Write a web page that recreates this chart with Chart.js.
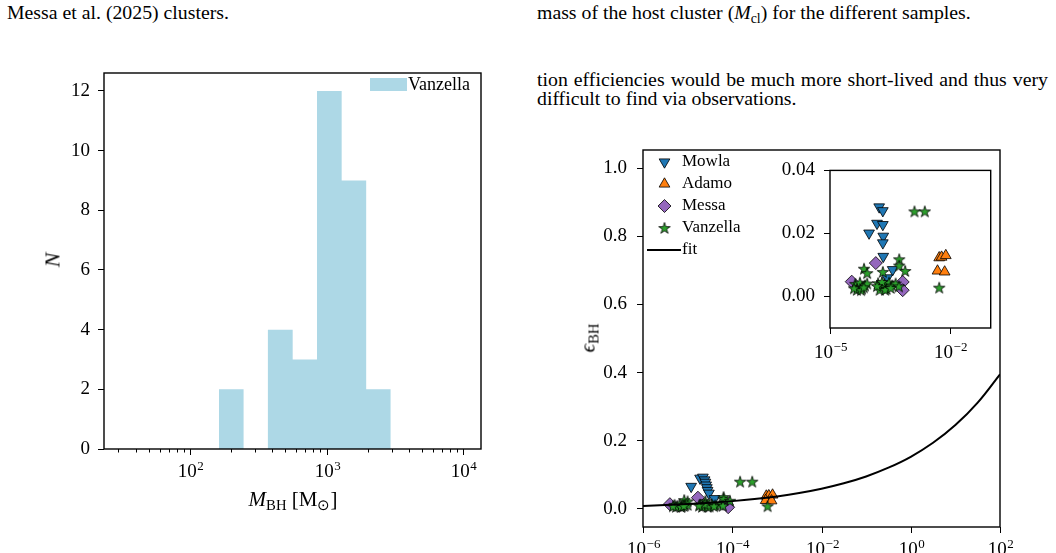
<!DOCTYPE html>
<html>
<head>
<meta charset="utf-8">
<script src="https://cdn.jsdelivr.net/npm/chart.js@4.4.0/dist/chart.umd.min.js"></script>
<style>
  body { margin: 0; width: 1056px; height: 553px; background: #fff; position: relative; overflow: hidden;
         font-family: "Liberation Serif", serif; color: #000; }
  .txt { position: absolute; font-size: 19.8px; line-height: 20px; white-space: nowrap; }
  .para { position: absolute; font-size: 19.8px; line-height: 20px; width: 511px; text-align: justify; text-align-last: justify; white-space: nowrap; }
  .sb { font-size: 70%; position: relative; top: 4px; line-height: 0; }
  canvas { position: absolute; }
  .lbl { position: absolute; font-size: 21px; line-height: 21px; white-space: nowrap; transform: translate(-50%, -50%); }
</style>
</head>
<body>
<div class="txt" style="left:7px; top:2px;">Messa et al. (2025) clusters.</div>
<div class="txt" style="left:537px; top:2px;">mass of the host cluster (<i>M</i><span class="sb">cl</span>) for the different samples.</div>
<div class="para" style="left:537px; top:69px;">tion efficiencies would be much more short-lived and thus very</div>
<div class="txt" style="left:537px; top:88px;">difficult to find via observations.</div>

<canvas id="histChart" width="530" height="513" style="left:0; top:40px;"></canvas>
<canvas id="effChart" width="526" height="433" style="left:530px; top:120px;"></canvas>
<canvas id="insetChart" width="228" height="212" style="left:770px; top:150px;"></canvas>

<div class="lbl" style="left:293px; top:499px;"><i>M</i><span class="sb">BH</span> [M<span class="sb">⊙</span>]</div>
<div class="lbl" style="left:52px; top:260px; font-size:22px; transform: translate(-50%, -50%) rotate(-90deg);"><i>N</i></div>
<div class="lbl" style="left:588px; top:338px; transform: translate(-50%, -50%) rotate(-90deg);"><i>ϵ</i><span class="sb">BH</span></div>

<script>
// ---- histogram of BH masses (left panel) ----
const histEdges = [163, 247, 372, 565, 851, 1290, 1950, 2950];
const histCounts = [2, 0, 4, 3, 12, 9, 2];
const histYTicks = [0, 2, 4, 6, 8, 10, 12];
const histMajor = [1e2, 1e3, 1e4];
const histMinor = [30, 40, 50, 60, 70, 80, 90, 200, 300, 400, 500, 600, 700, 800, 900,
                   2000, 3000, 4000, 5000, 6000, 7000, 8000, 9000];

// ---- efficiency vs. x (right panel) ----
const mowlaMain = [[1.2e-5, 0.066], [1.9e-5, 0.090], [2.2e-5, 0.093], [2.4e-5, 0.085], [2.5e-5, 0.078],
                   [2.6e-5, 0.070], [2.7e-5, 0.062], [2.8e-5, 0.054], [3.0e-5, 0.046], [4.0e-5, 0.030]];
const adamoMain = [[5.8e-4, 0.038], [6.6e-4, 0.039], [8.0e-4, 0.041], [5.6e-4, 0.025], [7.6e-4, 0.024]];
const messaMain = [[1.7e-5, 0.033], [4.0e-6, 0.014], [7.5e-5, 0.013], [8.1e-5, 0.005]];
const vanzellaMain = [[1.5e-4, 0.080], [2.8e-4, 0.080], [6.2e-4, 0.008], [6.4e-5, 0.035], [6.4e-5, 0.029],
                      [8.9e-5, 0.024], [8.4e-6, 0.026], [1.0e-5, 0.022], [2.5e-5, 0.023], [5.1e-6, 0.012],
                      [5.9e-6, 0.009], [6.6e-6, 0.013], [7.4e-6, 0.0075], [5.5e-6, 0.0063], [7.1e-6, 0.006],
                      [8.8e-6, 0.0105], [1.0e-5, 0.012], [4.7e-6, 0.0078], [8.2e-6, 0.0087], [1.9e-5, 0.0126],
                      [2.2e-5, 0.009], [2.7e-5, 0.012], [3.1e-5, 0.0072], [3.5e-5, 0.013], [4.2e-5, 0.0105],
                      [2.1e-5, 0.0063], [2.8e-5, 0.0063], [5.2e-5, 0.012], [6.2e-5, 0.0096], [2.4e-5, 0.014],
                      [3.9e-5, 0.008], [1.8e-5, 0.0099]];
// fit curve, read every half decade
const fitX = [1e-6, 3.16e-6, 1e-5, 3.16e-5, 1e-4, 3.16e-4, 1e-3, 3.16e-3, 1e-2,
              3.16e-2, 1e-1, 3.16e-1, 1, 3.16, 10, 31.6, 100];
const fitY = [0.0089, 0.0113, 0.0143, 0.0181, 0.0229, 0.0290, 0.0368, 0.0467, 0.0593,
              0.0752, 0.0953, 0.121, 0.153, 0.194, 0.246, 0.312, 0.395];
const effYTicks = [0, 0.2, 0.4, 0.6, 0.8, 1.0];
const effXTicks = [1e-6, 1e-4, 1e-2, 1, 1e2];

// ---- inset (zoom on the low-efficiency points) ----
const mowlaInset = [[1.7e-4, 0.0284], [2.1e-4, 0.0272], [1.5e-4, 0.0232], [2.1e-4, 0.0228], [9.5e-5, 0.0201],
                    [2.15e-4, 0.0191], [2.1e-4, 0.0170], [2.15e-4, 0.0127], [3.7e-4, 0.0085], [2.7e-4, 0.0059]];
const adamoInset = [[5.4e-3, 0.0123], [6.2e-3, 0.0125], [7.9e-3, 0.0130], [4.9e-3, 0.0081], [7.4e-3, 0.0078]];
const messaInset = [[1.4e-4, 0.0106], [3.5e-5, 0.0047], [6.6e-4, 0.0046], [6.6e-4, 0.0020]];
const vanzellaInset = [[1.3e-3, 0.0270], [2.35e-3, 0.0270], [5.4e-3, 0.0028], [5.4e-4, 0.0118], [5.4e-4, 0.0098],
                       [7.6e-4, 0.0081], [7.1e-5, 0.0088], [8.5e-5, 0.0074], [2.1e-4, 0.0078], [4.3e-5, 0.0040],
                       [5.0e-5, 0.0030], [5.6e-5, 0.0044], [6.3e-5, 0.0025], [4.7e-5, 0.0021], [6.0e-5, 0.0020],
                       [7.5e-5, 0.0035], [8.5e-5, 0.0041], [4.0e-5, 0.0026], [7.0e-5, 0.0029], [1.6e-4, 0.0042],
                       [1.9e-4, 0.0030], [2.3e-4, 0.0040], [2.6e-4, 0.0024], [3.0e-4, 0.0044], [3.6e-4, 0.0035],
                       [1.75e-4, 0.0021], [2.4e-4, 0.0021], [4.4e-4, 0.0041], [5.3e-4, 0.0032], [2.0e-4, 0.0046],
                       [3.3e-4, 0.0027], [1.5e-4, 0.0033]];
const insetYTicks = [0, 0.02, 0.04];
const insetXTicks = [1e-5, 1e-2];

const FONT = '"Liberation Serif", "DejaVu Serif", serif';
Chart.defaults.font.family = FONT;
Chart.defaults.color = '#000';

const colors = { Mowla: '#1f77b4', Adamo: '#ff7f0e', Messa: '#9467bd', Vanzella: '#2ca02c' };

function starPath(ctx, x, y, R) {
  const r = R * 0.382;
  ctx.beginPath();
  for (let i = 0; i < 10; i++) {
    const rad = i % 2 ? r : R;
    const ang = -Math.PI / 2 + i * Math.PI / 5;
    ctx.lineTo(x + rad * Math.cos(ang), y + rad * Math.sin(ang));
  }
  ctx.closePath();
}

// filled star marker, used as a Chart.js pointStyle
const starImg = document.createElement('canvas');
starImg.width = 14; starImg.height = 14;
(function () {
  const c = starImg.getContext('2d');
  starPath(c, 7, 7.5, 6);
  c.fillStyle = colors.Vanzella; c.fill();
  c.lineWidth = 0.8; c.strokeStyle = '#000'; c.stroke();
})();

function drawMarker(ctx, kind, x, y, r) {
  ctx.save();
  ctx.lineWidth = 0.8; ctx.strokeStyle = '#000';
  if (kind === 'star') { ctx.drawImage(starImg, x - 7, y - 7); ctx.restore(); return; }
  ctx.beginPath();
  if (kind === 'down') {
    ctx.moveTo(x - r * 0.866, y - r * 0.5); ctx.lineTo(x + r * 0.866, y - r * 0.5); ctx.lineTo(x, y + r);
    ctx.fillStyle = colors.Mowla;
  } else if (kind === 'up') {
    ctx.moveTo(x - r * 0.866, y + r * 0.5); ctx.lineTo(x + r * 0.866, y + r * 0.5); ctx.lineTo(x, y - r);
    ctx.fillStyle = colors.Adamo;
  } else {
    ctx.moveTo(x - r, y); ctx.lineTo(x, y - r); ctx.lineTo(x + r, y); ctx.lineTo(x, y + r);
    ctx.fillStyle = colors.Messa;
  }
  ctx.closePath(); ctx.fill(); ctx.stroke();
  ctx.restore();
}

function drawPow(ctx, x, y, exp, size) {
  const base = '10';
  const e = exp < 0 ? '\u2212' + (-exp) : String(exp);
  const es = Math.round(size * 0.7);
  ctx.font = size + 'px ' + FONT;
  const wb = ctx.measureText(base).width;
  ctx.font = es + 'px ' + FONT;
  const we = ctx.measureText(e).width;
  const x0 = x - (wb + we) / 2;
  ctx.textAlign = 'left'; ctx.textBaseline = 'alphabetic'; ctx.fillStyle = '#000';
  ctx.font = size + 'px ' + FONT;
  ctx.fillText(base, x0, y);
  ctx.font = es + 'px ' + FONT;
  ctx.fillText(e, x0 + wb + 0.5, y - size * 0.35);
}

// matplotlib-like frame, log-axis ticks with 10^n labels
const mplAxes = {
  id: 'mplAxes',
  afterDraw(chart, args, opts) {
    const { ctx, chartArea: a } = chart;
    const xs = chart.scales.x;
    ctx.save();
    ctx.strokeStyle = '#000'; ctx.lineWidth = 1;
    xs.ticks.forEach(t => {
      const px = Math.round(xs.getPixelForValue(t.value)) + 0.5;
      ctx.beginPath();
      ctx.moveTo(px, a.bottom);
      ctx.lineTo(px, a.bottom + (t.major ? 6 : 3.5));
      ctx.stroke();
      if (t.major) drawPow(ctx, px, a.bottom + opts.labelOffset, Math.round(Math.log10(t.value)), 19);
    });
    ctx.lineWidth = 1.4;
    ctx.strokeRect(a.left, a.top, a.right - a.left, a.bottom - a.top);
    ctx.restore();
  }
};

function yAxis(min, max, ticks, fmt, width, pad) {
  return {
    type: 'linear', min, max,
    afterBuildTicks: s => { s.ticks = ticks.map(v => ({ value: v })); },
    afterFit: s => { s.width = width; },
    grid: { display: true, drawOnChartArea: false, drawTicks: true, tickLength: 6, tickColor: '#000', tickWidth: 1 },
    border: { display: false },
    ticks: { font: { size: 19 }, color: '#000', padding: pad, callback: fmt }
  };
}

function xLogAxis(min, max, major, minor, height) {
  return {
    type: 'logarithmic', min, max,
    afterBuildTicks: s => {
      s.ticks = major.map(v => ({ value: v, major: true })).concat(minor.map(v => ({ value: v, major: false })));
    },
    afterFit: s => { s.height = height; },
    grid: { display: false },
    border: { display: false },
    ticks: { display: false }
  };
}

// ---------- left: histogram ----------
const histLegend = {
  id: 'histLegend',
  afterDraw(chart) {
    const { ctx, chartArea: a } = chart;
    const ds = chart.data.datasets[0];
    ctx.save();
    ctx.fillStyle = ds.backgroundColor;
    ctx.fillRect(a.right - 111, a.top + 5, 37, 13);
    ctx.fillStyle = '#000';
    ctx.font = '18px ' + FONT;
    ctx.textBaseline = 'middle';
    ctx.fillText(ds.label, a.right - 73, a.top + 12);
    ctx.restore();
  }
};

new Chart(document.getElementById('histChart'), {
  type: 'line',
  data: {
    datasets: [{
      label: 'Vanzella',
      data: histEdges.map((e, i) => ({ x: e, y: i < histCounts.length ? histCounts[i] : 0 })),
      stepped: 'before',
      fill: 'origin',
      backgroundColor: '#add8e6',
      borderColor: 'rgba(0,0,0,0)',
      borderWidth: 0,
      pointRadius: 0
    }]
  },
  options: {
    responsive: false, animation: false, devicePixelRatio: 1, events: [],
    layout: { padding: { left: 0, right: 49, top: 33, bottom: 0 } },
    plugins: { legend: { display: false }, tooltip: { enabled: false }, mplAxes: { labelOffset: 28 } },
    scales: {
      x: xLogAxis(23.5, 13500, histMajor, histMinor, 104),
      y: yAxis(0, 12.6, histYTicks, v => String(v), 104, 8)
    }
  },
  plugins: [mplAxes, histLegend]
});

// ---------- right: efficiency ----------
const toXY = arr => arr.map(p => ({ x: p[0], y: p[1] }));

function scatterSets(mowla, adamo, messa, vanzella) {
  return [
    { label: 'Vanzella', data: toXY(vanzella), pointStyle: starImg, order: 1, kind: 'star' },
    { label: 'Messa', data: toXY(messa), pointStyle: 'rectRot', pointRadius: 6.5, backgroundColor: colors.Messa, order: 2, kind: 'diamond' },
    { label: 'Adamo', data: toXY(adamo), pointStyle: 'triangle', pointRadius: 6.2, backgroundColor: colors.Adamo, order: 3, kind: 'up' },
    { label: 'Mowla', data: toXY(mowla), pointStyle: 'triangle', rotation: 180, pointRadius: 6.2, backgroundColor: colors.Mowla, order: 4, kind: 'down' }
  ].map(d => Object.assign({ type: 'scatter', borderColor: '#000', borderWidth: 0.8, pointRadius: 6 }, d));
}

const effLegend = {
  id: 'effLegend',
  afterDraw(chart) {
    const { ctx, chartArea: a } = chart;
    const order = ['Mowla', 'Adamo', 'Messa', 'Vanzella'];
    ctx.save();
    ctx.font = '17px ' + FONT;
    ctx.textBaseline = 'middle';
    ctx.fillStyle = '#000';
    order.forEach((name, i) => {
      const ds = chart.data.datasets.find(d => d.label === name);
      const y = a.top + 12 + 22 * i;
      drawMarker(ctx, ds.kind, a.left + 21.5, y, ds.kind === 'diamond' ? 6.5 : 6.2);
      ctx.fillStyle = '#000';
      ctx.fillText(ds.label, a.left + 39, y);
    });
    const fy = a.top + 12 + 22 * 4;
    ctx.strokeStyle = '#000'; ctx.lineWidth = 2;
    ctx.beginPath(); ctx.moveTo(a.left + 4, fy); ctx.lineTo(a.left + 38, fy); ctx.stroke();
    ctx.fillText('fit', a.left + 39, fy);
    ctx.restore();
  }
};

new Chart(document.getElementById('effChart'), {
  type: 'scatter',
  data: {
    datasets: [{
      type: 'line', label: 'fit', data: fitX.map((x, i) => ({ x, y: fitY[i] })),
      borderColor: '#000', borderWidth: 2, pointRadius: 0, tension: 0.4, order: 0
    }].concat(scatterSets(mowlaMain, adamoMain, messaMain, vanzellaMain))
  },
  options: {
    responsive: false, animation: false, devicePixelRatio: 1, events: [],
    layout: { padding: { left: 0, right: 56, top: 30, bottom: 0 } },
    plugins: { legend: { display: false }, tooltip: { enabled: false }, mplAxes: { labelOffset: 28 } },
    scales: {
      x: xLogAxis(1e-6, 1e2, effXTicks, [], 26),
      y: yAxis(-0.053, 1.053, effYTicks, v => v.toFixed(1), 113, 10)
    }
  },
  plugins: [mplAxes, effLegend]
});

// ---------- inset ----------
new Chart(document.getElementById('insetChart'), {
  type: 'scatter',
  data: { datasets: scatterSets(mowlaInset, adamoInset, messaInset, vanzellaInset) },
  options: {
    responsive: false, animation: false, devicePixelRatio: 1, events: [],
    layout: { padding: { left: 0, right: 7, top: 9, bottom: 0 } },
    plugins: { legend: { display: false }, tooltip: { enabled: false }, mplAxes: { labelOffset: 30 } },
    scales: {
      x: xLogAxis(1e-5, 1.05e-1, insetXTicks, [], 34),
      y: yAxis(-0.01, 0.04, insetYTicks, v => v.toFixed(2), 60, 9)
    }
  },
  plugins: [mplAxes]
});
</script>
</body>
</html>
